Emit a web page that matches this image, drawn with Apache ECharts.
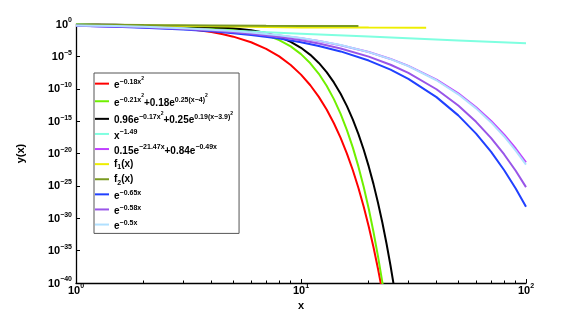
<!DOCTYPE html>
<html>
<head>
<meta charset="utf-8">
<script src="https://cdn.jsdelivr.net/npm/echarts@6/dist/echarts.min.js"></script>
<style>html,body{margin:0;padding:0;background:#fff}#c{width:581px;height:319px}</style>
</head>
<body>
<div id="c"></div>
<script>
// ---- data ----
const xGaussA = [1,1.5,2,2.5,3,3.5,4,4.5,5,6,7,8,9,10,11,12,13,14,15,16,17,18,19,20,21,22,23];
const yRed = [0.835,0.667,0.487,0.325,0.198,0.110,0.0561,0.0261,0.0111,1.53e-3,1.48e-4,9.93e-6,4.66e-7,1.52e-8,3.47e-10,5.53e-12,6.15e-14,4.76e-16,2.58e-18,9.72e-21,2.56e-23,4.70e-26,6.03e-29,5.38e-32,3.36e-35,1.46e-38,4.43e-42];
const xGaussB = [1,1.5,2,2.5,3,3.5,4,4.5,5,6,7,8,9,10,11,12,13,14,15,16,17,18,19,20,21,22,23,24];
const yGreen = [0.829,0.661,0.498,0.372,0.291,0.245,0.215,0.183,0.1455,0.0667,0.0190,3.30e-3,3.47e-4,2.22e-5,8.61e-7,2.03e-8,2.88e-10,2.51e-12,1.31e-14,4.17e-17,8.05e-20,9.33e-23,6.70e-26,2.88e-29,7.53e-33,1.20e-36,1.15e-40,6.7e-45];
const xGaussC = [1,1.5,2,2.5,3,3.5,4,4.5,5,6,7,8,9,10,11,12,13,14,15,16,17,18,19,20,21,22,23,24,25,26];
const yBlack = [0.861,0.739,0.612,0.505,0.422,0.362,0.313,0.264,0.212,0.110,0.0405,0.01025,1.785e-3,2.13e-4,1.73e-5,9.64e-7,3.67e-8,9.57e-10,1.70e-11,2.09e-13,1.73e-15,9.77e-18,3.83e-20,1.02e-22,1.86e-25,2.29e-28,1.97e-31,1.15e-34,4.57e-38,1.26e-41];
const xPow = [1,2,5,10,20,50,100];
const yCyan = [1,0.356,0.0909,0.0324,0.0115,2.93e-3,1.05e-3];
const xExp = [1,1.5,2,3,4,5,6,8,10,12,15,20,25,30,40,50,60,70,80,90,100];
const yMagenta = [0.515,0.403,0.315,0.193,0.118,0.0725,0.0444,0.0167,6.25e-3,2.35e-3,5.40e-4,4.66e-5,4.02e-6,3.47e-7,2.58e-9,1.92e-11,1.43e-13,1.07e-15,7.94e-18,5.92e-20,4.41e-22];
const yBlue = [0.522,0.377,0.273,0.142,0.0743,0.0388,0.0202,5.52e-3,1.50e-3,4.10e-4,5.83e-5,2.26e-6,8.77e-8,3.40e-9,5.11e-12,7.70e-15,1.16e-17,1.74e-20,2.62e-23,3.92e-26,5.91e-29];
const yPurple = [0.560,0.419,0.313,0.175,0.0983,0.0550,0.0308,9.66e-3,3.03e-3,9.49e-4,1.67e-4,9.17e-6,5.04e-7,2.77e-8,8.40e-11,2.54e-13,7.70e-16,2.33e-18,7.06e-21,2.14e-23,6.47e-26];
const yLightBlue = [0.607,0.472,0.368,0.223,0.135,0.0821,0.0498,0.0183,6.74e-3,2.48e-3,5.53e-4,4.54e-5,3.73e-6,3.06e-7,2.06e-9,1.39e-11,9.36e-14,6.31e-16,4.25e-18,2.86e-20,1.93e-22];
const xF1 = [1,2,4,7,10,20,36];
const yF1 = [0.8,0.6,0.45,0.35,0.3,0.28,0.27];
const xF2 = [1,2,4,7,10,18];
const yF2 = [0.85,0.7,0.6,0.52,0.5,0.48];
const xTickExponents = [0,1,2];
const yTickExponents = [-40,-35,-30,-25,-20,-15,-10,-5,0];
const seriesNames = ['red','green','black','cyan','magenta','f1','f2','blue','purple','lightblue'];
const legendLabels = {
  red: '{t|e}{s|−0.18x}{ss|2}',
  green: '{t|e}{s|−0.21x}{ss|2}{t|+0.18e}{s|0.25(x−4)}{ss|2}',
  black: '{t|0.96e}{s|−0.17x}{ss|2}{t|+0.25e}{s|0.19(x−3.9)}{ss|2}',
  cyan: '{t|x}{s|−1.49}',
  magenta: '{t|0.15e}{s|−21.47x}{t|+0.84e}{s|−0.49x}',
  f1: '{tb|f}{sub|1}{tb|(x)}',
  f2: '{tb|f}{sub|2}{tb|(x)}',
  blue: '{t|e}{s|−0.65x}',
  purple: '{t|e}{s|−0.58x}',
  lightblue: '{t|e}{s|−0.5x}'
};

// ---- chart ----
const FONT = 'Liberation Sans';
const colors = {red:'#ff0000',green:'#70f000',black:'#000000',cyan:'#7fffe0',magenta:'#c040ff',f1:'#eeee00',f2:'#7a9a20',blue:'#2040ff',purple:'#9955e8',lightblue:'#b0e0ff'};
function zip(xs, ys){ return xs.map((x,i)=>[x, ys[i]]); }
const dataMap = {
  red: zip(xGaussA, yRed), green: zip(xGaussB, yGreen), black: zip(xGaussC, yBlack),
  cyan: zip(xPow, yCyan), magenta: zip(xExp, yMagenta), f1: zip(xF1, yF1), f2: zip(xF2, yF2),
  blue: zip(xExp, yBlue), purple: zip(xExp, yPurple), lightblue: zip(xExp, yLightBlue)
};
const LH = 13.7;
const legRich = {
  t: {fontSize:10, fontFamily:FONT, fontWeight:'bold', color:'#000', lineHeight:LH, verticalAlign:'bottom'},
  s: {fontSize:7, fontFamily:FONT, fontWeight:'bold', color:'#000', lineHeight:LH, verticalAlign:'bottom', padding:[0,0,5,0]},
  ss: {fontSize:5, fontFamily:FONT, fontWeight:'bold', color:'#000', lineHeight:LH, verticalAlign:'bottom', padding:[0,0,9.5,0]},
  tb: {fontSize:10, fontFamily:FONT, fontWeight:'bold', color:'#000', lineHeight:LH, verticalAlign:'bottom', padding:[0,0,2,0]},
  sub: {fontSize:7, fontFamily:FONT, fontWeight:'bold', color:'#000', lineHeight:LH, verticalAlign:'bottom'}
};
const axRich = {
  b: {fontSize:11, fontFamily:FONT, fontWeight:'bold', color:'#000', lineHeight:12, verticalAlign:'bottom'},
  s: {fontSize:7, fontFamily:FONT, fontWeight:'bold', color:'#000', lineHeight:12, verticalAlign:'bottom', padding:[0,0,6,0]}
};
function expText(e){ return '{b|10}{s|' + (e<0 ? '−'+(-e) : e) + '}'; }

const chart = echarts.init(document.getElementById('c'), null, {renderer:'canvas'});
chart.setOption({
  animation: false,
  backgroundColor: '#fff',
  grid: {left:76, right:55, top:24, bottom:36, containLabel:false, outerBoundsMode:'none'},
  legend: {
    orient:'vertical', left:94, top:73, data: seriesNames,
    icon:'rect', itemWidth:14, itemHeight:2, itemGap:3.1,
    padding:[3,6,2,1], borderColor:'#555', borderWidth:1, backgroundColor:'#fff',
    selectedMode:false,
    formatter: n => legendLabels[n],
    textStyle: {rich: legRich, fontFamily:FONT}
  },
  xAxis: {
    type:'log', logBase:10, min:1, max:100,
    name:'x', nameLocation:'middle', nameGap:6,
    nameTextStyle:{fontSize:11, fontFamily:FONT, fontWeight:'bold', color:'#000'},
    axisLine:{show:true, lineStyle:{color:'#000', width:1.3}},
    axisTick:{show:true, inside:true, length:4, lineStyle:{color:'#000'}},
    minorTick:{show:true, splitNumber:9, length:2.5, lineStyle:{color:'#000'}},
    axisLabel:{margin:1, formatter: (v, i) => expText(xTickExponents[i]), rich: axRich},
    splitLine:{show:false}, minorSplitLine:{show:false}
  },
  yAxis: [{
    // log scale that positions the curves
    type:'log', logBase:10, min:1e-40, max:1, interval:5,
    axisLine:{show:true, lineStyle:{color:'#000', width:1.3}},
    axisTick:{show:false}, axisLabel:{show:false}, splitLine:{show:false}
  },{
    // decade-exponent scale aligned with it, carrying the tick marks and labels
    type:'value', min:yTickExponents[0], max:yTickExponents[yTickExponents.length-1], interval:5, position:'left',
    name:'y(x)', nameLocation:'middle', nameGap:50, nameRotate:90,
    nameTextStyle:{fontSize:11, fontFamily:FONT, fontWeight:'bold', color:'#000'},
    axisLine:{show:false},
    axisTick:{show:true, inside:true, length:4, lineStyle:{color:'#000'}},
    axisLabel:{margin:4, formatter: v => expText(Math.round(v)), rich: axRich},
    splitLine:{show:false}
  }],
  series: seriesNames.map(n => ({
    name:n, type:'line', data:dataMap[n], showSymbol:false, symbol:'none', clip:true,
    xAxisIndex:0, yAxisIndex:0,
    lineStyle:{color:colors[n], width:2}, itemStyle:{color:colors[n]}
  }))
});
</script>
</body>
</html>
